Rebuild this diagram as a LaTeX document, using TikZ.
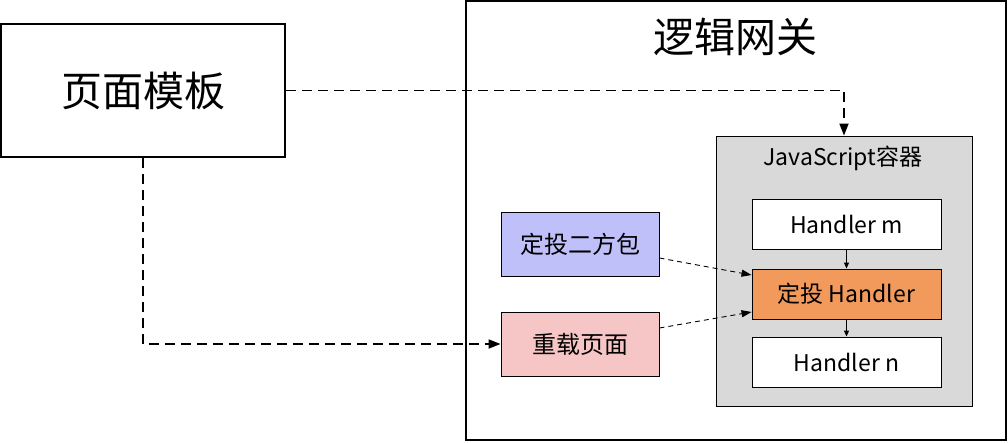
\documentclass[tikz,border=0pt]{standalone}
\usepackage{fontspec}
\setmainfont{Noto Sans CJK SC}
\usepackage{tikz}
\usetikzlibrary{arrows.meta, positioning, calc}

\definecolor{jsgray}{HTML}{D9D9D9}
\definecolor{pkgblue}{HTML}{BFBFF9}
\definecolor{reloadpink}{HTML}{F6C5C5}
\definecolor{dtorange}{HTML}{F2995C}

\begin{document}
\begin{tikzpicture}[
  x=1pt, y=-1pt,
  bigbox/.style={draw, line width=1.7pt, inner sep=0pt, font=\fontsize{41}{44}\selectfont},
  smallbox/.style={draw, line width=0.9pt, inner sep=0pt, minimum width=158pt, minimum height=64pt, font=\fontsize{24}{27}\selectfont},
  handler/.style={draw, line width=0.9pt, fill=white, inner sep=0pt, minimum width=189pt, minimum height=50pt, font=\fontsize{23}{26}\selectfont},
  bigdash/.style={-{Triangle[length=12pt,width=9pt]}, line width=1.7pt, dash pattern=on 10pt off 6pt},
  smalldash/.style={-{Triangle[length=10pt,width=7pt]}, line width=0.9pt, dash pattern=on 5pt off 4pt},
  flow/.style={-{Triangle[length=6pt,width=5pt]}, line width=0.9pt}
]
\useasboundingbox (0,0) rectangle (1008,442);

\node[bigbox, minimum width=284pt, minimum height=133pt] (tpl) at (143,90.5) {页面模板};
\node[bigbox, minimum width=540pt, minimum height=439pt] (gw) at (736,220.5) {};
\node[font=\fontsize{41}{44}\selectfont] (gwtitle) at (735,37) {逻辑网关};

\node[draw, line width=0.9pt, fill=jsgray, minimum width=256pt, minimum height=270pt] (js) at (844,271) {};
\node[font=\fontsize{23}{26}\selectfont] (jstitle) at (843,158) {JavaScript容器};

\node[handler] (hm) at (846.5,224.5) {Handler m};
\node[handler, fill=dtorange] (hd) at (846.5,294) {定投 Handler};
\node[handler] (hn) at (846.5,362) {Handler n};

\node[smallbox, fill=pkgblue] (pkg) at (580,244) {定投二方包};
\node[smallbox, fill=reloadpink] (reload) at (580,344) {重载页面};

\draw[bigdash] (tpl.east) -| (js.north);
\draw[bigdash] (tpl.south) |- (reload.west);
\draw[smalldash] ($(pkg.east)+(0,14)$) -- ($(hd.west)+(0,-19)$);
\draw[smalldash] ($(reload.east)+(0,-16)$) -- ($(hd.west)+(0,18)$);
\draw[flow] (hm) -- (hd);
\draw[flow] (hd) -- (hn);
\end{tikzpicture}
\end{document}
